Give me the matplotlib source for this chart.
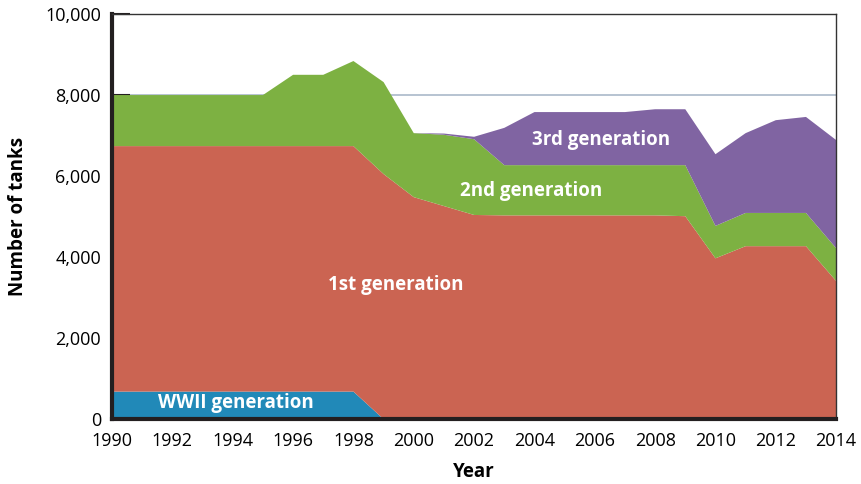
import numpy as np
import matplotlib.pyplot as plt
from matplotlib.ticker import FuncFormatter

plt.rcParams['font.family'] = ['Open Sans', 'DejaVu Sans']

# Tank inventory by generation
years = list(range(1990, 2015))
wwii = [680] * 9 + [0] * 16
first = [6060] * 9 + [6050, 5480, 5260, 5040, 5030, 5030, 5030, 5030, 5030, 5030, 5010,
                      3970, 4270, 4270, 4270, 3410]
second = [1260] * 6 + [1760, 1760, 2100, 2270, 1580, 1760, 1870,
                       1240, 1240, 1240, 1240, 1240, 1240, 1260,
                       800, 820, 820, 820, 810]
third = [0] * 11 + [30, 60, 920, 1310, 1310, 1310, 1310, 1380, 1380,
                    1770, 1970, 2290, 2370, 2670]

colors = ['#2189b8', '#cb6452', '#7db142', '#8064a2']
labels = ['WWII generation', '1st generation', '2nd generation', '3rd generation']
label_pos = [(1994.1, 390), (1999.4, 3300), (2003.9, 5640), (2006.2, 6900)]

fig = plt.figure(figsize=(8.62, 4.84), dpi=100)
ax = fig.add_axes([0.130, 0.134, 0.840, 0.837])

ax.axhline(8000, color='#aab9c9', lw=1.2, zorder=0)
ax.stackplot(years, wwii, first, second, third, colors=colors, lw=0, zorder=2)

for (x, y), text in zip(label_pos, labels):
    ax.text(x, y, text, color='white', fontsize=13.5, fontweight='bold',
            ha='center', va='center', zorder=3)

ax.set_xlim(1990, 2014)
ax.set_ylim(0, 10000)
ax.set_xticks(range(1990, 2015, 2))
ax.set_xticks(range(1990, 2015), minor=True)
ax.set_yticks(range(0, 10001, 2000))
ax.yaxis.set_major_formatter(FuncFormatter(lambda v, p: f'{int(v):,}'))

ax.tick_params(axis='x', which='both', direction='in', length=10, width=1.2,
               color='#231f20', labelsize=13, pad=9, top=False)
ax.tick_params(axis='y', direction='in', length=13, width=1.5,
               color='#231f20', labelsize=13, pad=8, right=False)

for side in ['left', 'bottom']:
    ax.spines[side].set_linewidth(3)
    ax.spines[side].set_color('#231f20')
for side in ['top', 'right']:
    ax.spines[side].set_linewidth(1)
    ax.spines[side].set_color('#333333')
for s in ax.spines.values():
    s.set_zorder(5)

ax.set_xlabel('Year', fontsize=13.5, fontweight='bold', labelpad=9)
ax.set_ylabel('Number of tanks', fontsize=13.5, fontweight='bold', labelpad=12)

fig.savefig('out.png', dpi=100)
